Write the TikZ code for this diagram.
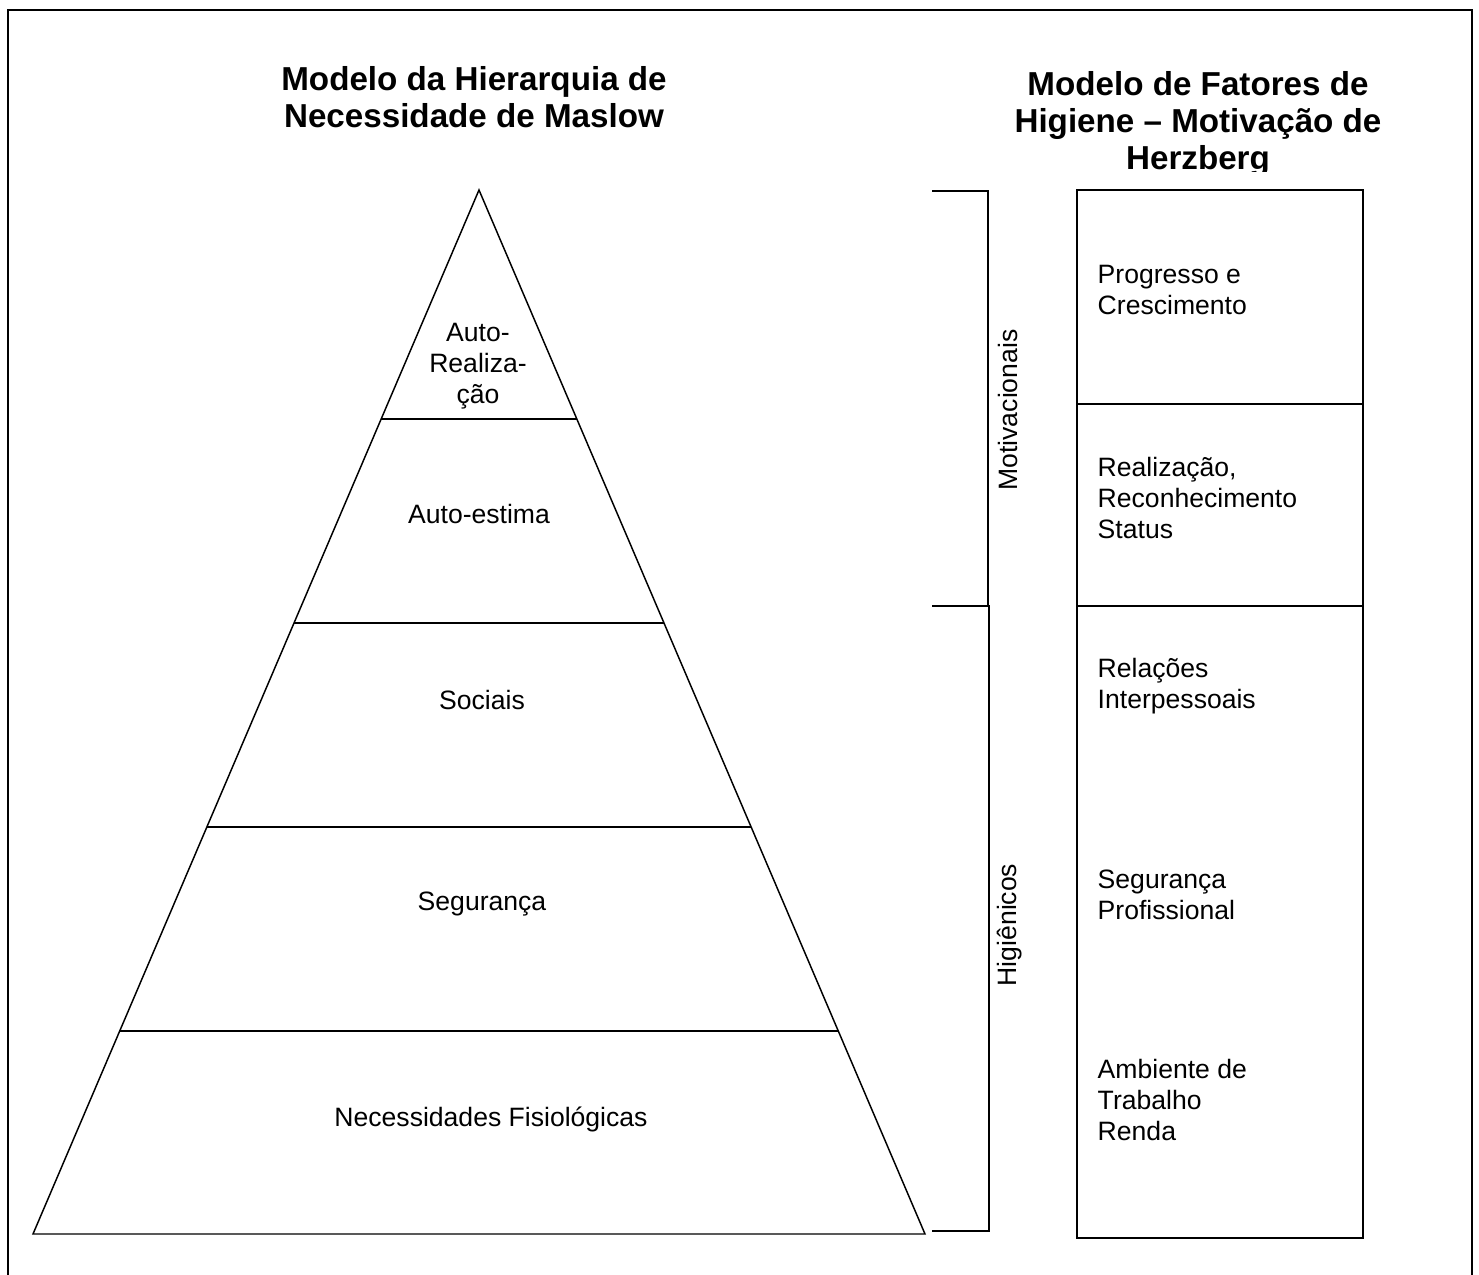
\documentclass[tikz,border=0pt]{standalone}
\usepackage{fontspec}
\setmainfont{Liberation Sans}
\tikzset{
  titulo/.style={font=\fontsize{23.6pt}{26.3pt}\selectfont\bfseries, align=center, inner sep=0pt},
  nivel/.style={font=\fontsize{18.9pt}{22pt}\selectfont, align=center, inner sep=0pt},
  fator/.style={font=\fontsize{18.9pt}{22pt}\selectfont, align=left, anchor=west, inner sep=0pt}
}
\begin{document}
\begin{tikzpicture}[x=0.25mm, y=-0.25mm, line width=1.05pt]
\useasboundingbox (0,0) rectangle (1479,1275);
\draw[line width=1.7pt] (8,1275)--(8,10)--(1472,10)--(1472,1275);

% piramide
\coordinate (topo) at (479,190);
\pgfmathsetmacro{\k}{446/1044}
\draw (33,1234)--(topo)--(925,1234)--cycle;
\foreach \y in {419,623,827,1031}
  \draw ({479-(\y-190)*\k},\y)--({479+(\y-190)*\k},\y);

\node[titulo] (maslow) at (474,97) {Modelo da Hierarquia de\\Necessidade de Maslow};
\node[nivel] (autor) at (478,366) {Auto-\\Realiza-\\ção};
\node[nivel] (estima) at (479,514) {Auto-estima};
\node[nivel] (sociais) at (482,700) {Sociais};
\node[nivel] (seg) at (482,904) {Segurança};
\node[nivel] (fisio) at (491,1119) {Necessidades Fisiológicas};

% chaves
\draw (932,191) -| (988,606);
\draw (932,606) -- (989,606) |- (932,1231);
\node[nivel, rotate=90] (motiv) at (1008,410) {Motivacionais};
\node[nivel, rotate=90] (higie) at (1010,925) {Higiênicos};

% coluna de Herzberg
\begin{scope}
  \clip (1000,40) rectangle (1420,172);
  \node[titulo] (herzberg) at (1198,124) {Modelo de Fatores de\\Higiene – Motivação de\\Herzberg};
\end{scope}
\draw (1077,190) rectangle (1363,1238);
\draw (1077,404)--(1363,404);
\draw[line width=1.6pt] (1077,606)--(1363,606);
\node[fator] (prog) at (1097,290) {Progresso e\\Crescimento};
\node[fator] (real) at (1097,498) {Realização,\\Reconhecimento\\Status};
\node[fator] (rel) at (1097,686) {Relações\\Interpessoais};
\node[fator] (segp) at (1097,895) {Segurança\\Profissional};
\node[fator] (amb) at (1097,1100) {Ambiente de\\Trabalho\\Renda};
\end{tikzpicture}
\end{document}
